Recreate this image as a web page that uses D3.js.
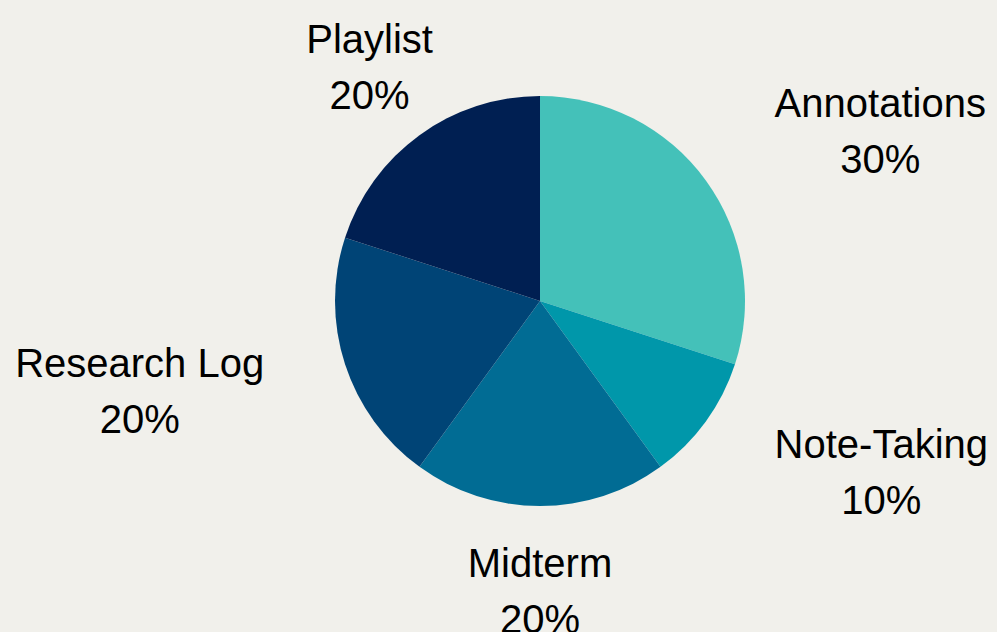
<!DOCTYPE html>
<html>
<head>
<meta charset="utf-8">
<script src="https://cdn.jsdelivr.net/npm/d3@7"></script>
<style>
  body { margin: 0; background: #f1f0eb; }
  svg { display: block; }
</style>
</head>
<body>
<div id="chart-area"></div>
<script>
// chart data
var categories = ["Annotations", "Note-Taking", "Midterm", "Research Log", "Playlist"];
var values = [30, 10, 20, 20, 20];
var colors = ["#44c1b9", "#0097aa", "#016c94", "#004476", "#001f52"];

var width = 997,
    height = 632;

var cx = 540, cy = 301;
var radius = 205,
    labelRadius = 290;
var fontSize = 40,
    lineHeight = 56;

var svg = d3.select("#chart-area")
    .append("svg")
        .attr("width", width)
        .attr("height", height);

svg.append("rect")
    .attr("width", width)
    .attr("height", height)
    .attr("fill", "#f1f0eb");

var g = svg.append("g")
    .attr("transform", "translate(" + cx + "," + cy + ")");

var data = categories.map(function(c, i) {
    return { name: c, value: values[i] };
});

var color = d3.scaleOrdinal()
    .domain(categories)
    .range(colors);

var pie = d3.pie()
    .sort(null)
    .value(function(d) { return d.value; });

var arc = d3.arc()
    .innerRadius(0)
    .outerRadius(radius);

var labelArc = d3.arc()
    .innerRadius(labelRadius)
    .outerRadius(labelRadius);

var slices = pie(data);

g.selectAll("path")
    .data(slices)
    .enter()
    .append("path")
        .attr("d", arc)
        .attr("fill", function(d) { return color(d.data.name); });

// labels: two centred lines, the block sits against the label point
var labels = g.selectAll(".label")
    .data(slices)
    .enter()
    .append("text")
        .attr("class", "label")
        .attr("font-family", "'Liberation Sans', Arial, sans-serif")
        .attr("font-size", fontSize + "px")
        .attr("fill", "#000")
        .attr("text-anchor", "middle");

labels.each(function(d) {
    var p = labelArc.centroid(d);
    var s = Math.sin((d.startAngle + d.endAngle) / 2);
    var top = p[1] - lineHeight / 2 + fontSize * 0.358;
    var t = d3.select(this);
    var l1 = t.append("tspan")
        .attr("y", top)
        .text(d.data.name);
    var l2 = t.append("tspan")
        .attr("y", top + lineHeight)
        .text(d.data.value + "%");
    var w = Math.max(l1.node().getComputedTextLength(), l2.node().getComputedTextLength());
    var x = p[0];
    if (s > 0.7) x = p[0] + w / 2;
    else if (s < -0.7) x = p[0] - w / 2;
    l1.attr("x", x);
    l2.attr("x", x);
});
</script>
</body>
</html>
